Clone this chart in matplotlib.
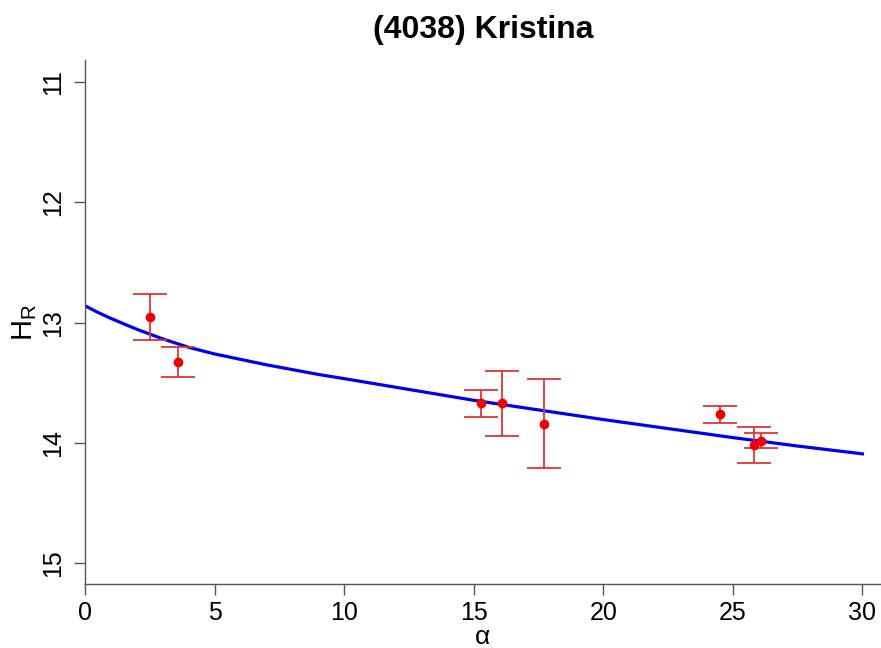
import numpy as np
import matplotlib.pyplot as plt

plt.rcParams['font.family'] = ['Liberation Sans', 'DejaVu Sans']

# observations: phase angle, reduced magnitude, 1-sigma error
alpha = [2.5, 3.6, 15.3, 16.1, 17.7, 24.5, 25.8, 26.1]
h_r = [12.95, 13.33, 13.67, 13.67, 13.84, 13.76, 14.02, 13.98]
h_err = [0.19, 0.125, 0.11, 0.27, 0.37, 0.07, 0.15, 0.065]

# fitted phase curve
curve_alpha = [0, 0.5, 1, 1.5, 2, 2.5, 3, 3.5, 4, 5, 6, 7, 8, 9, 10,
               12.5, 15, 17.5, 20, 22.5, 25, 27.5, 30]
curve_h = [12.86, 12.915, 12.965, 13.01, 13.055, 13.095, 13.135, 13.17,
           13.205, 13.26, 13.305, 13.35, 13.39, 13.43, 13.465, 13.555,
           13.645, 13.725, 13.805, 13.88, 13.955, 14.025, 14.09]

fig = plt.figure(figsize=(8.81, 6.48), dpi=100)
ax = fig.add_axes([0.0965, 0.099, 0.903, 0.808])

ax.plot(curve_alpha, curve_h, color='#0000ee', lw=2.3, zorder=2)
ax.errorbar(alpha, h_r, yerr=h_err, fmt='none', ecolor='#e03535',
            elinewidth=1.3, capsize=12, capthick=1.3, zorder=3)
ax.plot(alpha, h_r, 'o', color='#ee0000', ms=6, zorder=4)

ax.set_xlim(0, 30.7)
ax.set_ylim(15.17, 10.82)
ax.set_xticks([0, 5, 10, 15, 20, 25, 30])
ax.set_yticks([11, 12, 13, 14, 15])
for lab in ax.get_yticklabels():
    lab.set_rotation(90)
    lab.set_va('center')

ax.spines['top'].set_visible(False)
ax.spines['right'].set_visible(False)
for s in ['left', 'bottom']:
    ax.spines[s].set_color('#555555')
    ax.spines[s].set_linewidth(1.0)
ax.tick_params(axis='both', length=8, width=1.0, color='#555555',
               labelsize=18)
ax.tick_params(axis='x', pad=4)
ax.tick_params(axis='y', pad=6)

ax.set_xlabel('\u03b1', fontsize=19, labelpad=0)
ax.set_ylabel(r'H$_\mathregular{R}$', fontsize=21, labelpad=2)
ax.set_title('(4038) Kristina', fontsize=23, fontweight='bold', pad=16)

fig.savefig('out.png', dpi=100)
